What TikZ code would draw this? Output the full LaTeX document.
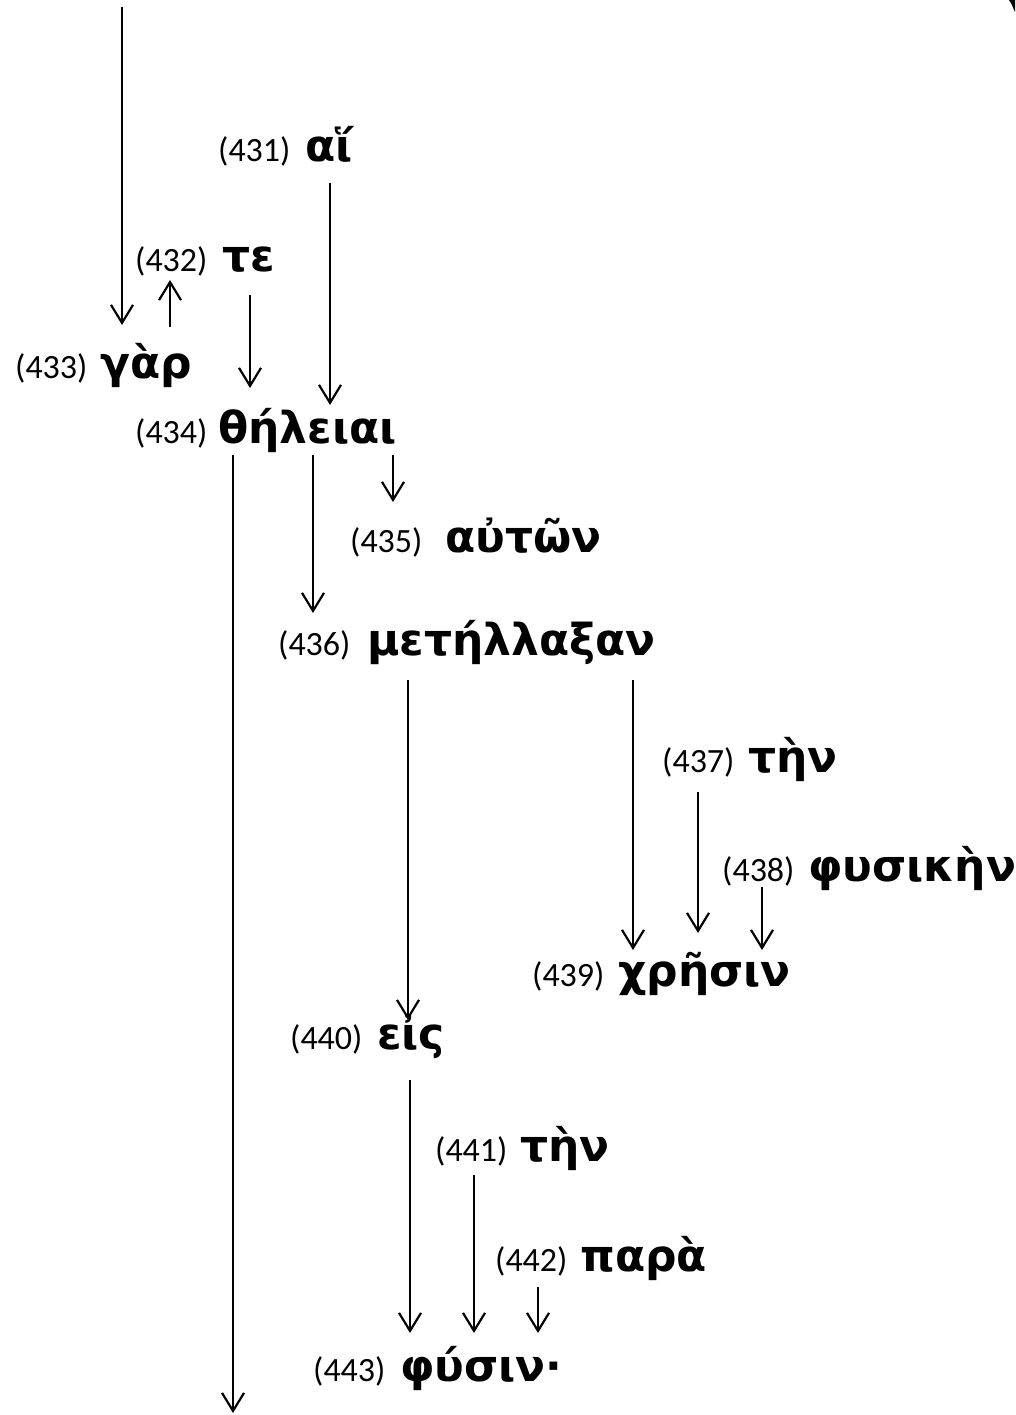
\documentclass[tikz,border=0pt]{standalone}
\usepackage{fontspec}
\setmainfont{Carlito}
\newfontfamily\grkfont{DejaVu Sans}
\usetikzlibrary{arrows.meta,calc}
\tikzset{
  num/.style={anchor=base west,inner sep=0pt,font=\fontsize{34}{40}\selectfont},
  wrd/.style={anchor=base west,inner sep=0pt,font=\grkfont\bfseries\fontsize{44}{50}\selectfont},
  arr/.style={line width=2.2pt,-{Straight Barb[length=18pt,width=22pt,line width=2.2pt]}}
}
\begin{document}
\begin{tikzpicture}[x=1pt,y=-1pt]
\useasboundingbox (0,0) rectangle (1015,1415);
\fill[white] (0,0) rectangle (1015,1415);
% top-right fragment
\fill[black] (1009,0) .. controls (1012,4) and (1013,8) .. (1015,12) -- (1015,0) -- cycle;

\node[num] (n431) at (218,162) {(431)};
\node[wrd] (w431) at (305,162) {αἵ};
\node[num] (n432) at (135,272) {(432)};
\node[wrd] (w432) at (222,272) {τε};
\node[num] (n433) at (15,378) {(433)};
\node[wrd] (w433) at (100,378) {γὰρ};
\node[num] (n434) at (135,443) {(434)};
\node[wrd] (w434) at (218,443) {θήλειαι};
\node[num] (n435) at (350,552) {(435)};
\node[wrd] (w435) at (445,552) {αὐτῶν};
\node[num] (n436) at (278,655) {(436)};
\node[wrd] (w436) at (367,655) {μετήλλαξαν};
\node[num] (n437) at (662,772) {(437)};
\node[wrd] (w437) at (748,772) {τὴν};
\node[num] (n438) at (722,881) {(438)};
\node[wrd] (w438) at (808,881) {φυσικὴν};
\node[num] (n439) at (532,986) {(439)};
\node[wrd] (w439) at (618,986) {χρῆσιν};
\node[num] (n440) at (290,1049) {(440)};
\node[wrd] (w440) at (377,1049) {εἰς};
\node[num] (n441) at (435,1161) {(441)};
\node[wrd] (w441) at (520,1161) {τὴν};
\node[num] (n442) at (495,1271) {(442)};
\node[wrd] (w442) at (580,1271) {παρὰ};
\node[num] (n443) at (313,1381) {(443)};
\node[wrd] (w443) at (400,1381) {φύσιν·};

\coordinate (top) at (122,7);
\coordinate (bottom) at (233,1413);

\draw[arr] (top) -- ($(w433.base west)+(22,-53)$);
\draw[arr] ($(w433.base west)+(70,-51)$) -- ($(w432.base west)+(-52,8)$);
\draw[arr] ($(w432.base west)+(28,23)$) -- ($(w434.base west)+(32,-55)$);
\draw[arr] ($(w431.base west)+(25,21)$) -- ($(w434.base west)+(112,-38)$);
\draw[arr] ($(w434.base west)+(15,12)$) -- (bottom);
\draw[arr] ($(w434.base west)+(95,12)$) -- ($(w436.base west)+(-54,-42)$);
\draw[arr] ($(w434.base west)+(175,12)$) -- ($(w435.base west)+(-52,-50)$);
\draw[arr] ($(w436.base west)+(41,25)$) -- ($(w440.base west)+(31,-29)$);
\draw[arr] ($(w436.base west)+(266,25)$) -- ($(w439.base west)+(15,-36)$);
\draw[arr] ($(w437.base west)+(-50,20)$) -- ($(w439.base west)+(80,-53)$);
\draw[arr] ($(w438.base west)+(-46,6)$) -- ($(w439.base west)+(144,-36)$);
\draw[arr] ($(w440.base west)+(33,31)$) -- ($(w443.base west)+(10,-48)$);
\draw[arr] ($(w441.base west)+(-46,14)$) -- ($(w443.base west)+(74,-48)$);
\draw[arr] ($(w442.base west)+(-42,16)$) -- ($(w443.base west)+(138,-48)$);
\end{tikzpicture}
\end{document}
